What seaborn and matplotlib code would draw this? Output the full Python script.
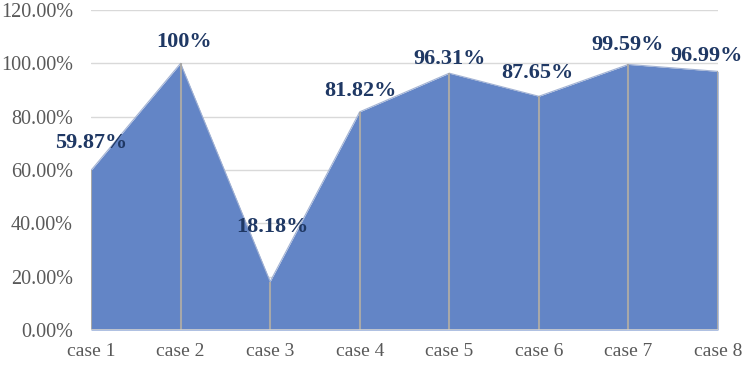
import matplotlib
matplotlib.use("Agg")
import matplotlib.pyplot as plt
import seaborn as sns
import pandas as pd
import numpy as np
from matplotlib.ticker import FuncFormatter

categories = ["case 1", "case 2", "case 3", "case 4", "case 5", "case 6", "case 7", "case 8"]
values = [59.87, 100.0, 18.18, 81.82, 96.31, 87.65, 99.59, 96.99]
labels = ["59.87%", "100%", "18.18%", "81.82%", "96.31%", "87.65%", "99.59%", "96.99%"]
yticks = [0, 20, 40, 60, 80, 100, 120]

# label offsets in pixels (dx, dy up)
label_offsets = [(0, 27), (3, 21), (2, 55), (1, 21), (0, 14), (-1, 23), (-1, 19), (-11, 15)]

sns.set_theme(style="white")
plt.rcParams["font.family"] = ["Liberation Serif", "DejaVu Serif"]

df = pd.DataFrame({"x": np.arange(len(categories)), "v": values})

fig = plt.figure(figsize=(7.44, 3.67), dpi=100)
ax = fig.add_axes([91 / 744, 37 / 367, (718 - 91) / 744, (330 - 10) / 367])

for t in yticks[1:]:
    ax.axhline(t, color="#D9D9D9", lw=1, zorder=0)

ax.fill_between(df["x"], 0, df["v"], color="#6385C6", lw=0, zorder=2)
sns.lineplot(data=df, x="x", y="v", ax=ax, color="#A3B3D4", lw=0.8, zorder=3, legend=False)

ax.vlines(df["x"], 0, df["v"], color="#A8A8A8", lw=1.5, zorder=4)
ax.axhline(0, color="#D0D0D0", lw=1.2, zorder=5)

for i, (v, lab) in enumerate(zip(values, labels)):
    dx, dy = label_offsets[i]
    ax.annotate(lab, (i, v), xytext=(dx * 0.72, dy * 0.72), textcoords="offset points",
                ha="center", va="center", fontsize=16, fontweight="bold",
                color="#1F3864", zorder=6, annotation_clip=False)

ax.set_xlim(0, len(categories) - 1)
ax.set_ylim(0, 120)
ax.set_xticks(range(len(categories)))
ax.set_xticklabels(categories)
ax.set_yticks(yticks)
ax.yaxis.set_major_formatter(FuncFormatter(lambda v, p: f"{v:.2f}%"))
ax.tick_params(axis="both", colors="#595959", length=0)
ax.tick_params(axis="y", pad=13, labelsize=14.5)
ax.tick_params(axis="x", pad=9, labelsize=14)
ax.set_xlabel("")
ax.set_ylabel("")
for s in ax.spines.values():
    s.set_visible(False)
ax.grid(False)

fig.savefig("out.png", dpi=100)
